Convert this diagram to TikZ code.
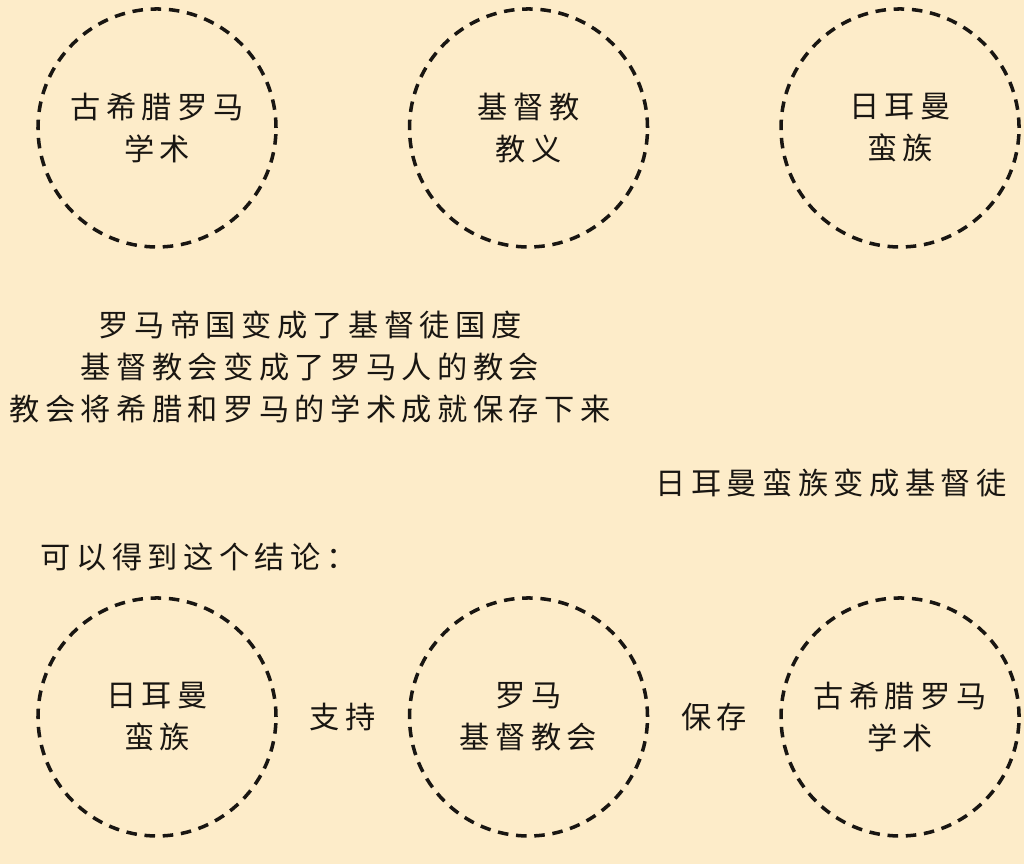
\documentclass[tikz,border=0pt]{standalone}
\usepackage{fontspec}
\usepackage{xcolor}
\usepackage{tikz}
\usetikzlibrary{positioning}
\newfontfamily\cjk[LetterSpace=18]{Noto Sans CJK SC}
\definecolor{paper}{RGB}{253,236,201}
\definecolor{ink}{RGB}{25,22,18}

\begin{document}
\begin{tikzpicture}[
    node distance=1.3cm,
    ring/.style={circle,draw=ink,dashed,dash pattern=on 3pt off 2.2pt,
                 line width=1pt,minimum size=2.38cm,inner sep=0pt,
                 align=center,text=ink,font=\cjk\fontsize{8.6}{12}\selectfont},
    txt/.style={text=ink,align=center,inner sep=0pt,
                font=\cjk\fontsize{8.6}{12}\selectfont},
  ]
    \useasboundingbox[fill=paper](0,0) rectangle (10.24,8.64);
    % top row
    \node[ring](gr1) at (1.57,7.36){古希腊罗马\\学术};
    \node[ring,right=of gr1](jd){基督教\\教义};
    \node[ring,right=of jd](rm1){日耳曼\\蛮族};
    % statements
    \node[txt](stm) at (3.10,4.97){罗马帝国变成了基督徒国度\\
      基督教会变成了罗马人的教会\\教会将希腊和罗马的学术成就保存下来};
    \node[txt](conv) at (8.31,3.81){日耳曼蛮族变成基督徒};
    \node[txt,anchor=west](concl) at (0.40,3.07){可以得到这个结论：};
    % bottom row
    \node[ring](rm2) at (1.57,1.47){日耳曼\\蛮族};
    \node[ring,right=of rm2](rc){罗马\\基督教会};
    \node[ring,right=of rc](gr2){古希腊罗马\\学术};
    \path(rm2)--(rc) node[txt,midway](sup){支持};
    \path(rc)--(gr2) node[txt,midway](kp){保存};
  \end{tikzpicture}
\end{document}
